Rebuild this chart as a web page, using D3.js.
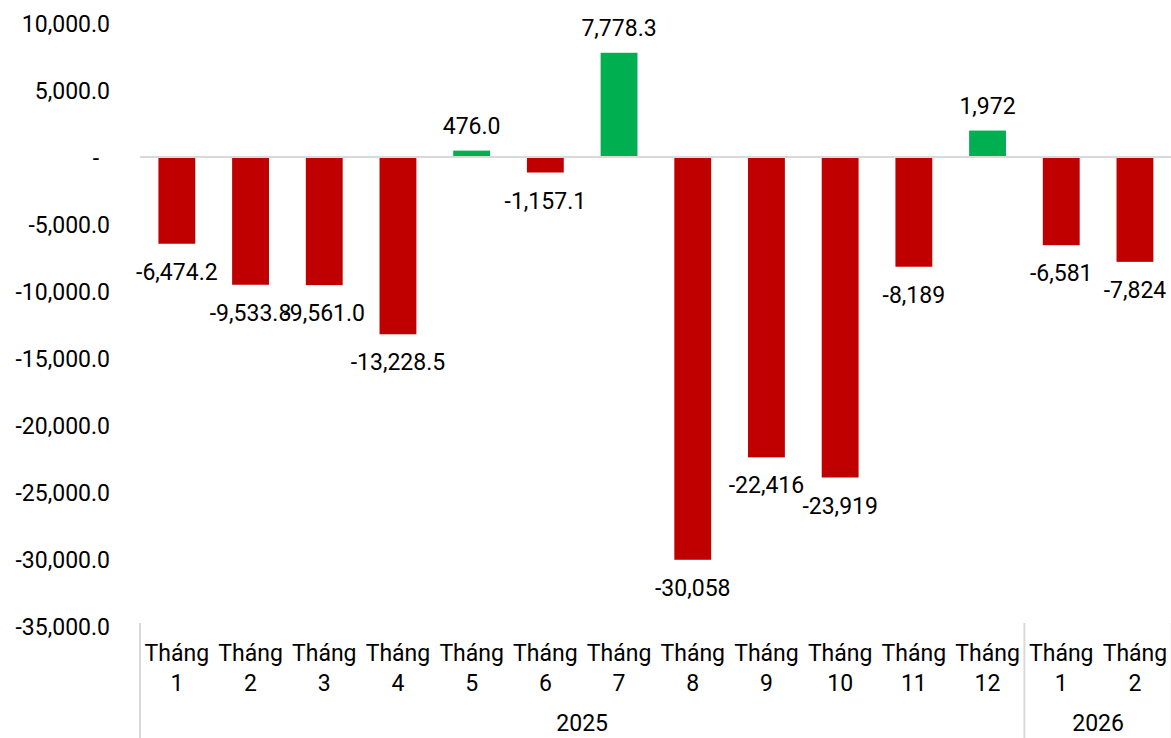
<!DOCTYPE html>
<html>
<head>
<meta charset="utf-8">
<script src="https://cdn.jsdelivr.net/npm/d3@7"></script>
<style>
  body { margin: 0; background: #fff; }
  svg text { font-family: Roboto, "Noto Sans", sans-serif; fill: #000; }
</style>
</head>
<body>
<svg width="1171" height="738"></svg>
<script>
const months = ["1", "2", "3", "4", "5", "6", "7", "8", "9", "10", "11", "12", "1", "2"]
const years = ["2025", "2025", "2025", "2025", "2025", "2025", "2025", "2025", "2025", "2025", "2025", "2025", "2026", "2026"]
const values = [-6474.2, -9533.8, -9561.0, -13228.5, 476.0, -1157.1, 7778.3, -30058, -22416, -23919, -8189, 1972, -6581, -7824]
const valueLabels = ["-6,474.2", "-9,533.8", "-9,561.0", "-13,228.5", "476.0", "-1,157.1", "7,778.3", "-30,058", "-22,416", "-23,919", "-8,189", "1,972", "-6,581", "-7,824"]
const yTicks = [10000, 5000, 0, -5000, -10000, -15000, -20000, -25000, -30000, -35000]

const width = 1171
const height = 738
const plotLeft = 140, plotRight = 1171.8
const plotTop = 23, plotBottom = 626
const fs = "23px"

const svg = d3.select("svg")
const keys = values.map((d, i) => i)

const xScale = d3.scaleBand().domain(keys).range([plotLeft, plotRight]).paddingInner(0.5).paddingOuter(0.25)
const yScale = d3.scaleLinear().domain([-35000, 10000]).range([plotBottom, plotTop])

// y axis, no line, no ticks (plain hyphen for minus)
const fmt = d3.formatLocale({decimal: ".", thousands: ",", grouping: [3], currency: ["", ""], minus: "-"}).format(",.1f")
const yAxis = d3.axisLeft(yScale).tickValues(yTicks).tickSize(0).tickPadding(0)
	.tickFormat(d => d === 0 ? "-" : fmt(d))
const yG = svg.append("g").attr("transform", "translate(110,0)").call(yAxis)
yG.select(".domain").remove()
yG.selectAll("text").style("font-size", fs).attr("dy", "0.35em")
yG.selectAll(".tick").filter(d => d === 0).select("text").attr("x", -11)

// zero line
svg.append("line")
	.attr("x1", plotLeft).attr("x2", width)
	.attr("y1", yScale(0)).attr("y2", yScale(0))
	.style("stroke", "#d9d9d9").style("stroke-width", 2)

// bars
svg.selectAll("rect.bar")
	.data(values)
	.enter().append("rect")
	.attr("class", "bar")
	.attr("x", (d, i) => xScale(i))
	.attr("width", xScale.bandwidth())
	.attr("y", d => d >= 0 ? yScale(d) : yScale(0) + 1)
	.attr("height", d => d >= 0 ? yScale(0) - yScale(d) - 1 : yScale(d) - yScale(0) - 1)
	.style("fill", d => d >= 0 ? "#00b050" : "#c00000")

// value labels
svg.selectAll("text.val")
	.data(values)
	.enter().append("text")
	.attr("class", "val")
	.attr("x", (d, i) => xScale(i) + xScale.bandwidth() / 2)
	.attr("y", d => d >= 0 ? yScale(d) - 17 : yScale(d) + 36)
	.attr("text-anchor", "middle")
	.style("font-size", fs)
	.text((d, i) => valueLabels[i])

// category labels
const step = xScale.step()
const center = i => plotLeft + step * (i + 0.5)
svg.selectAll("text.cat1")
	.data(months)
	.enter().append("text")
	.attr("class", "cat1")
	.attr("x", (d, i) => center(i))
	.attr("y", 661)
	.attr("text-anchor", "middle")
	.style("font-size", fs)
	.text("Tháng")
svg.selectAll("text.cat2")
	.data(months)
	.enter().append("text")
	.attr("class", "cat2")
	.attr("x", (d, i) => center(i))
	.attr("y", 691)
	.attr("text-anchor", "middle")
	.style("font-size", fs)
	.text(d => d)

// year groups
const groups = d3.groups(keys, i => years[i])
groups.forEach(([yr, idx]) => {
	const x0 = plotLeft + step * idx[0]
	const x1 = plotLeft + step * (idx[idx.length - 1] + 1)
	svg.append("text")
		.attr("x", (x0 + x1) / 2)
		.attr("y", 731)
		.attr("text-anchor", "middle")
		.style("font-size", fs)
		.text(yr)
})
const seps = [0].concat(groups.map(([yr, idx]) => idx[idx.length - 1] + 1))
svg.selectAll("line.sep")
	.data(seps)
	.enter().append("line")
	.attr("class", "sep")
	.attr("x1", d => plotLeft + step * d).attr("x2", d => plotLeft + step * d)
	.attr("y1", 623).attr("y2", height)
	.style("stroke", "#d9d9d9").style("stroke-width", 2)
</script>
</body>
</html>
